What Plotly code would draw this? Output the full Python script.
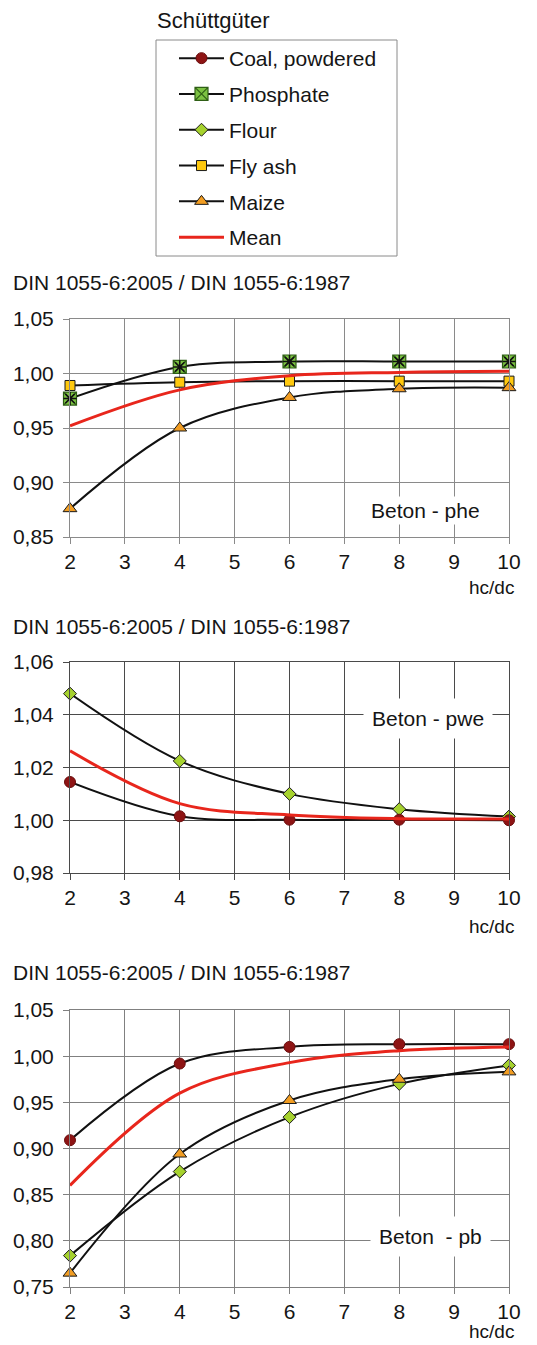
import plotly.graph_objects as go

# ---------------- data ----------------
x_hcdc = [2, 4, 6, 8, 10]

# Panel 1: Beton - phe
phe_phosphate = [0.977, 1.006, 1.011, 1.011, 1.011]
phe_flyash = [0.989, 0.992, 0.993, 0.993, 0.993]
phe_maize = [0.876, 0.950, 0.978, 0.986, 0.987]
phe_mean = [0.952, 0.985, 0.998, 1.001, 1.002]

# Panel 2: Beton - pwe
pwe_flour = [1.048, 1.0225, 1.010, 1.0042, 1.0014]
pwe_coal = [1.0145, 1.0015, 1.0002, 1.0002, 1.0000]
pwe_mean = [1.0263, 1.0063, 1.002, 1.0006, 1.0005]

# Panel 3: Beton - pb
pb_coal = [0.909, 0.992, 1.010, 1.013, 1.013]
pb_flour = [0.784, 0.875, 0.934, 0.970, 0.990]
pb_maize = [0.765, 0.894, 0.952, 0.975, 0.983]
pb_mean = [0.860, 0.960, 0.993, 1.006, 1.010]

panel_title = "DIN 1055-6:2005 / DIN 1055-6:1987"
panel_labels = ["Beton - phe", "Beton - pwe", "Beton  - pb"]
legend_title = "Schüttgüter"
x_title = "hc/dc"

# ---------------- styles ----------------
W, H = 537, 1345
FONT = "Liberation Sans, Arial, sans-serif"
RED = "#e8261c"
TXT = "#151515"

styles = {
    "Coal, powdered": dict(symbol="circle", size=11, color="#8e1414", line=dict(color="#6a0c0c", width=1)),
    "Phosphate": dict(symbol="square-x", size=13, color="#7cc242", line=dict(color="#2f5f16", width=1.2)),
    "Flour": dict(symbol="diamond", size=10, color="#a6d22e", line=dict(color="#1a1a1a", width=1)),
    "Fly ash": dict(symbol="square", size=10, color="#ffc90e", line=dict(color="#1a1a1a", width=1)),
    "Maize": dict(symbol="triangle-up", size=12, color="#f29d22", line=dict(color="#1a1a1a", width=1)),
}
ranks = {"Coal, powdered": 1, "Phosphate": 2, "Flour": 3, "Fly ash": 4, "Maize": 5, "Mean": 6}

fig = go.Figure()
shown = set()


def add_series(name, y, axis_idx):
    xa = "x" if axis_idx == 1 else f"x{axis_idx}"
    ya = "y" if axis_idx == 1 else f"y{axis_idx}"
    show = name not in shown
    shown.add(name)
    if name == "Mean":
        fig.add_trace(go.Scatter(
            x=x_hcdc, y=y, name=name, mode="lines",
            line=dict(color=RED, width=3, shape="spline", smoothing=1),
            xaxis=xa, yaxis=ya, showlegend=show, legendgroup=name,
            legendrank=ranks[name], cliponaxis=False))
    else:
        fig.add_trace(go.Scatter(
            x=x_hcdc, y=y, name=name, mode="lines+markers",
            line=dict(color="#111111", width=2, shape="spline", smoothing=1),
            marker=styles[name],
            xaxis=xa, yaxis=ya, showlegend=show, legendgroup=name,
            legendrank=ranks[name], cliponaxis=False))
        if name == "Phosphate":
            # black asterisk drawn over the green square
            fig.add_trace(go.Scatter(
                x=x_hcdc, y=y, name=name, mode="markers",
                marker=dict(symbol="asterisk-open", size=11, color="#111111",
                            line=dict(color="#111111", width=1.6)),
                xaxis=xa, yaxis=ya, showlegend=False, legendgroup=name,
                hoverinfo="skip", cliponaxis=False))


# panel 1
add_series("Phosphate", phe_phosphate, 1)
add_series("Fly ash", phe_flyash, 1)
add_series("Maize", phe_maize, 1)
add_series("Mean", phe_mean, 1)
# panel 2
add_series("Flour", pwe_flour, 2)
add_series("Coal, powdered", pwe_coal, 2)
add_series("Mean", pwe_mean, 2)
# panel 3
add_series("Coal, powdered", pb_coal, 3)
add_series("Flour", pb_flour, 3)
add_series("Maize", pb_maize, 3)
add_series("Mean", pb_mean, 3)

# plot-area pixel boxes (left, right, top, bottom)
boxes = [(70, 509, 319, 537), (70, 509, 662, 873), (70, 509, 1010, 1287)]
yranges = [(0.85, 1.05, 0.05), (0.98, 1.06, 0.02), (0.75, 1.05, 0.05)]
gridcols = ["#8a8a8a", "#4a4a4a", "#808080"]

layout = {}
for i, ((l, r, t, b), (y0, y1, dt), gc) in enumerate(zip(boxes, yranges, gridcols), start=1):
    sfx = "" if i == 1 else str(i)
    layout[f"xaxis{sfx}"] = dict(
        domain=[l / W, r / W], range=[2, 10], dtick=1, tick0=2,
        anchor=f"y{sfx}" if i > 1 else "y",
        showgrid=True, gridcolor=gc, gridwidth=1,
        showline=True, linecolor=gc, linewidth=1, mirror=True,
        ticks="outside", ticklen=6, tickcolor=gc,
        zeroline=False, automargin=False, fixedrange=True,
        tickfont=dict(family=FONT, size=21, color=TXT),
    )
    layout[f"yaxis{sfx}"] = dict(
        domain=[1 - b / H, 1 - t / H], range=[y0, y1], dtick=dt, tick0=y0,
        anchor=f"x{sfx}" if i > 1 else "x",
        tickformat=".2f",
        showgrid=True, gridcolor=gc, gridwidth=1,
        showline=True, linecolor=gc, linewidth=1, mirror=True,
        ticks="outside", ticklen=6, tickcolor=gc,
        zeroline=False, automargin=False, fixedrange=True,
        ticklabelstandoff=5,
        tickfont=dict(family=FONT, size=21, color=TXT),
    )

fig.update_layout(**layout)

annotations = []
# panel titles and x-axis titles
for ty in [283, 626, 973]:
    annotations.append(dict(
        text=panel_title, xref="paper", yref="paper", x=11 / W, y=1 - ty / H,
        xanchor="left", yanchor="middle", showarrow=False,
        font=dict(family=FONT, size=21, color=TXT)))
for yy in [587, 926, 1331]:
    annotations.append(dict(
        text=x_title, xref="paper", yref="paper", x=516 / W, y=1 - yy / H,
        xanchor="right", yanchor="middle", showarrow=False,
        font=dict(family=FONT, size=19, color=TXT)))

# in-plot labels with white background
label_pos = [(425, 510, 2), (428, 718, 8), (430, 1236, 8)]
for txt, (cx, cy, pad) in zip(panel_labels, label_pos):
    annotations.append(dict(
        text=txt, xref="paper", yref="paper", x=cx / W, y=1 - cy / H,
        xanchor="center", yanchor="middle", showarrow=False,
        bgcolor="white", borderpad=pad,
        font=dict(family=FONT, size=21, color=TXT)))

# legend title (outside the box)
annotations.append(dict(
    text=legend_title, xref="paper", yref="paper", x=155 / W, y=1 - 20 / H,
    xanchor="left", yanchor="middle", showarrow=False,
    font=dict(family=FONT, size=22, color=TXT)))

fig.update_layout(
    width=W, height=H,
    margin=dict(l=0, r=0, t=0, b=0),
    paper_bgcolor="white", plot_bgcolor="white",
    separators=",.",
    annotations=annotations,
    shapes=[dict(type="rect", xref="paper", yref="paper",
                 x0=156 / W, x1=397 / W, y0=1 - 256 / H, y1=1 - 40 / H,
                 line=dict(color="#8a8a8a", width=1), fillcolor="rgba(0,0,0,0)")],
    legend=dict(
        x=174 / W, y=1 - 38 / H, xanchor="left", yanchor="top",
        bgcolor="rgba(0,0,0,0)", borderwidth=0,
        font=dict(family=FONT, size=21, color=TXT),
        tracegroupgap=5.5, itemwidth=45,
        traceorder="grouped",
    ),
    font=dict(family=FONT, color=TXT),
)

fig.write_html("out.html")
